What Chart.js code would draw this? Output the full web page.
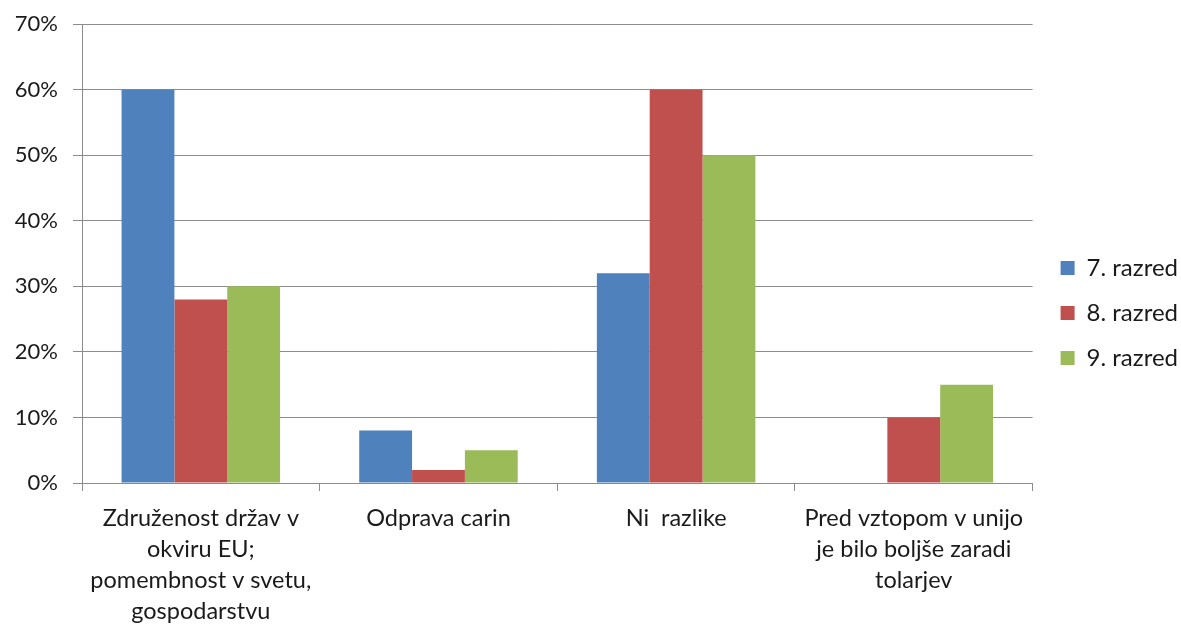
<!DOCTYPE html>
<html>
<head>
<meta charset="utf-8">
<script src="https://cdn.jsdelivr.net/npm/chart.js@4"></script>
<style>
html,body{margin:0;padding:0;background:#fff;}
#wrap{width:1181px;height:626px;position:relative;}
</style>
</head>
<body>
<div id="wrap"><canvas id="c" width="1181" height="626"></canvas></div>
<script>
const categories = [
  ["Združenost držav v", "okviru EU;", "pomembnost v svetu,", "gospodarstvu"],
  "Odprava carin",
  "Ni  razlike",
  ["Pred vztopom v unijo", "je bilo boljše zaradi", "tolarjev"]
];
const seriesNames = ["7. razred", "8. razred", "9. razred"];
const razred7 = [60, 8, 32, 0];
const razred8 = [28, 2, 60, 10];
const razred9 = [30, 5, 50, 15];
const seriesColors = ["#4F81BD", "#C0504D", "#9BBB59"];
const yTicks = [0, 10, 20, 30, 40, 50, 60, 70];

const FONT = "Lato, 'Open Sans', sans-serif";
const values = [razred7, razred8, razred9];

const legendShift = {
  id: 'legendShift',
  afterLayout(chart) {
    const lg = chart.legend;
    if (lg) { lg.top -= 12; lg.bottom -= 12; lg.left += 7; lg.right += 7; }
  }
};

new Chart(document.getElementById('c'), {
  type: 'bar',
  data: {
    labels: categories,
    datasets: values.map((v, i) => ({
      label: seriesNames[i],
      data: v,
      backgroundColor: seriesColors[i],
      borderWidth: 0,
      categoryPercentage: 0.667,
      barPercentage: 1.0
    }))
  },
  plugins: [legendShift],
  options: {
    responsive: false,
    animation: false,
    layout: { padding: { top: 24, left: 0, right: 0, bottom: 0 } },
    plugins: {
      legend: {
        position: 'right',
        align: 'center',
        labels: {
          font: { family: FONT, size: 24 },
          color: '#1a1a1a',
          boxWidth: 14,
          boxHeight: 14,
          padding: 21
        }
      },
      tooltip: { enabled: false }
    },
    scales: {
      y: {
        min: 0, max: 70,
        afterBuildTicks: (s) => { s.ticks = yTicks.map(v => ({ value: v })); },
        ticks: {
          callback: (v) => v + '%',
          font: { family: FONT, size: 22 },
          color: '#1a1a1a',
          padding: 15
        },
        grid: { color: '#8c8c8c', lineWidth: 1, tickLength: 9 },
        border: { color: '#8c8c8c', width: 1 },
        afterFit: (s) => { s.width = 82; s.paddingTop = 0; s.paddingBottom = 0; }
      },
      x: {
        ticks: {
          font: { family: FONT, size: 23.5, lineHeight: 1.32 },
          color: '#1a1a1a',
          maxRotation: 0,
          autoSkip: false,
          padding: 12
        },
        grid: { color: '#8c8c8c', drawOnChartArea: false, drawTicks: true, tickLength: 8, offset: true },
        border: { color: '#8c8c8c', width: 1 },
        afterFit: (s) => { s.height = 143; s.paddingTop = 0; s.paddingBottom = 0; s.paddingLeft = 0; s.paddingRight = 0; }
      }
    }
  }
});
</script>
</body>
</html>
